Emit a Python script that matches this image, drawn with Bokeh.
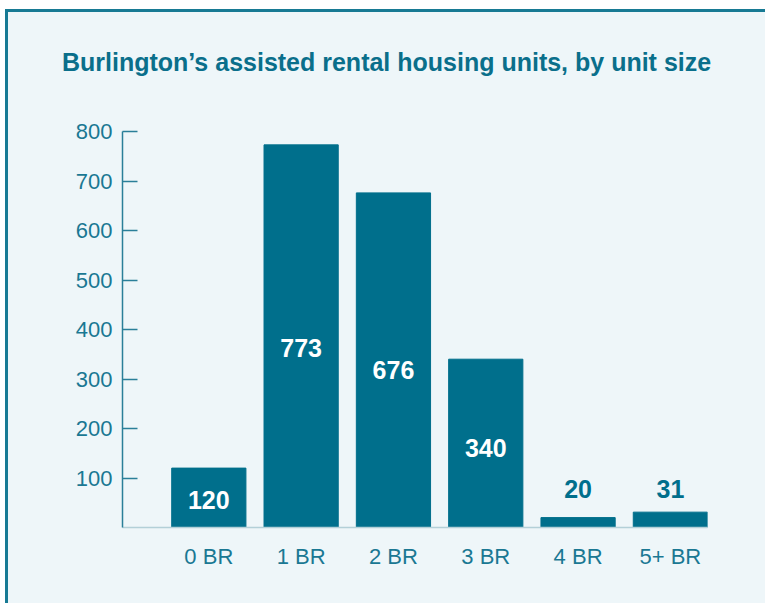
from bokeh.plotting import figure
from bokeh.models import ColumnDataSource, FixedTicker, Range1d, Div
from bokeh.layouts import column
from bokeh.core.properties import value
from bokeh.embed import file_html
from bokeh.resources import INLINE

categories = ["0 BR", "1 BR", "2 BR", "3 BR", "4 BR", "5+ BR"]
units = [120, 773, 676, 340, 20, 31]
y_ticks = [100, 200, 300, 400, 500, 600, 700, 800]
title_text = "Burlington\u2019s assisted rental housing units, by unit size"

TEAL = "#006f8c"
TEXT = "#1a7893"
BG = "#eef6f9"

xs = list(range(len(categories)))
inside = [v >= 100 for v in units]
label_y = [v * 0.47 if ins else 77 for v, ins in zip(units, inside)]
label_color = ["white" if ins else TEAL for ins in inside]

src = ColumnDataSource(dict(x=xs, top=units, ly=label_y, lc=label_color,
                            txt=[str(v) for v in units]))

title = Div(text=('<div style="margin:0;padding:30px 0 0 49px;'
                  'font-family:\'Liberation Sans\';font-size:25px;font-weight:bold;'
                  'line-height:30px;color:#0a6f8b;white-space:nowrap;">'
                  + title_text + '</div>'),
            width=757, height=70, styles={"background-color": BG})

p = figure(width=757, height=511, output_backend="svg", toolbar_location=None,
           x_range=Range1d(-0.935, 5.402), y_range=Range1d(0, 800),
           min_border_left=114, min_border_right=58, min_border_top=39,
           min_border_bottom=76)
p.background_fill_color = BG
p.border_fill_color = BG
p.outline_line_color = None
p.grid.visible = False

p.vbar(x="x", top="top", width=0.804, source=src, color=TEAL)
p.text(x="x", y="ly", text="txt", text_color="lc", source=src,
       text_font=value("Liberation Sans"), text_font_size="25px",
       text_font_style="bold", text_align="center", text_baseline="middle")

p.yaxis.ticker = FixedTicker(ticks=y_ticks)
p.yaxis.axis_line_color = "#2a7f99"
p.yaxis.axis_line_width = 1.5
p.yaxis.major_tick_line_color = "#2a7f99"
p.yaxis.major_tick_line_width = 1.5
p.yaxis.major_tick_in = 15
p.yaxis.major_tick_out = 0
p.yaxis.minor_tick_line_color = None
p.yaxis.major_label_standoff = 10
p.yaxis.major_label_text_font = "Liberation Sans"
p.yaxis.major_label_text_font_size = "22px"
p.yaxis.major_label_text_color = TEXT

p.xaxis.ticker = FixedTicker(ticks=xs)
p.xaxis.major_label_overrides = {i: c for i, c in zip(xs, categories)}
p.xaxis.axis_line_color = "#b3d0d8"
p.xaxis.axis_line_width = 1.5
p.xaxis.major_tick_line_color = None
p.xaxis.minor_tick_line_color = None
p.xaxis.major_label_standoff = 10
p.xaxis.major_label_text_font = "Liberation Sans"
p.xaxis.major_label_text_font_size = "22px"
p.xaxis.major_label_text_color = TEXT

layout = column(title, p, spacing=0,
                styles={"border-top": "3px solid #177a94", "border-left": "3px solid #177a94",
                        "margin-left": "5px", "margin-top": "9px",
                        "background-color": BG})

open("out.html", "w").write(file_html(layout, INLINE))
